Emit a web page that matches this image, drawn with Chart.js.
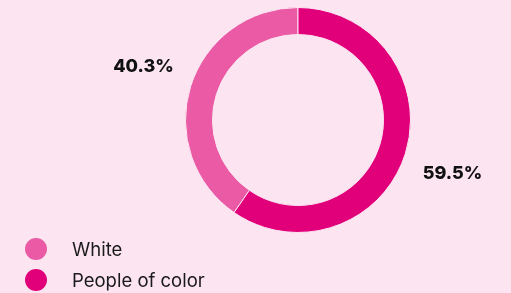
<!DOCTYPE html>
<html>
<head>
<meta charset="utf-8">
<script src="https://cdn.jsdelivr.net/npm/chart.js@4"></script>
<style>
    html, body { margin: 0; padding: 0; background: #fce5f1; }
    #wrap { position: relative; width: 511px; height: 293px; }
    #legend { position: absolute; left: 25px; top: 233px; font-family: Inter, sans-serif; font-size: 18.5px; color: #1a1a1a; }
    .item { display: flex; align-items: center; height: 31px; }
    .dot { width: 22px; height: 22px; border-radius: 50%; margin-right: 25px; }
</style>
</head>
<body>
<div id="wrap">
    <canvas id="donut-chart" width="511" height="293"></canvas>
    <div id="legend"></div>
</div>
<script>
const labels = ['White', 'People of color'];
const shares = [40.3, 59.5];
const colors = ['#ea5aa5', '#e2007a'];

document.addEventListener('DOMContentLoaded', function() {
    // percentage labels placed outside each arc
    const outsideLabels = {
        id: 'outsideLabels',
        afterDatasetsDraw(chart) {
            const ctx = chart.ctx;
            const arcs = chart.getDatasetMeta(0).data;
            ctx.save();
            ctx.font = '800 18px Inter, sans-serif';
            ctx.fillStyle = '#111111';
            ctx.textAlign = 'center';
            ctx.textBaseline = 'middle';
            arcs.forEach((arc, i) => {
                const mid = (arc.startAngle + arc.endAngle) / 2 + 0.03;
                const r = arc.outerRadius + 51;
                ctx.fillText(shares[i].toFixed(1) + '%', arc.x + Math.cos(mid) * r, arc.y + Math.sin(mid) * r);
            });
            ctx.restore();
        }
    };

    const total = shares.reduce((sum, v) => sum + v, 0);

    new Chart(document.getElementById('donut-chart').getContext('2d'), {
        type: 'doughnut',
        data: {
            labels: labels,
            datasets: [{
                data: shares,
                backgroundColor: colors,
                borderColor: '#fce5f1',
                borderWidth: 1
            }]
        },
        options: {
            responsive: false,
            animation: false,
            cutout: '76%',
            rotation: 360 * shares[1] / total,
            layout: { padding: { left: 185, right: 100, top: 7, bottom: 60 } },
            plugins: {
                legend: { display: false },
                tooltip: { enabled: false }
            }
        },
        plugins: [outsideLabels]
    });

    const legend = document.getElementById('legend');
    labels.forEach((label, i) => {
        const item = document.createElement('div');
        item.className = 'item';
        item.innerHTML = '<span class="dot" style="background:' + colors[i] + '"></span>' + label;
        legend.appendChild(item);
    });
});
</script>
</body>
</html>
